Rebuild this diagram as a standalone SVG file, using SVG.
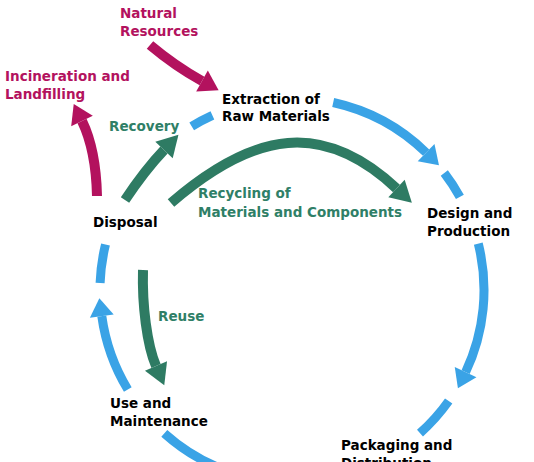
<svg xmlns="http://www.w3.org/2000/svg" width="534" height="462" viewBox="0 0 534 462">
<style>
text{font-family:"DejaVu Sans",Verdana,sans-serif;font-weight:bold;font-size:13.5px}
.k{fill:#000}
.m{fill:#B3125E}
.g{fill:#2F7F67}
.b{fill:none;stroke:#3AA3E6;stroke-width:9}
.mr{fill:none;stroke:#B3125E;stroke-width:10}
.gr{fill:none;stroke:#2E7B63;stroke-width:10}
</style>
<defs>
<marker id="hb" markerUnits="userSpaceOnUse" orient="auto" refX="0" refY="0" markerWidth="40" markerHeight="40" overflow="visible"><path d="M0,-12 L18,0 L0,12 Z" fill="#3AA3E6"/></marker>
<marker id="hm" markerUnits="userSpaceOnUse" orient="auto" refX="0" refY="0" markerWidth="40" markerHeight="40" overflow="visible"><path d="M0,-12 L19,0 L0,12 Z" fill="#B3125E"/></marker>
<marker id="hg" markerUnits="userSpaceOnUse" orient="auto" refX="0" refY="0" markerWidth="40" markerHeight="40" overflow="visible"><path d="M0,-12 L21,0 L0,12 Z" fill="#2E7B63"/></marker>
</defs>
<rect width="534" height="462" fill="#fff"/>
<g id="connectors">
<path class="b" d="M191.7,126.3 A192,192 0 0 1 212.4,115.3"/>
<path class="b" d="M333.2,102.5 A192,192 0 0 1 426.1,152.6" marker-end="url(#hb)"/>
<path class="b" d="M444.3,173.1 A192,192 0 0 1 459.9,196.9"/>
<path class="b" d="M478.3,243.6 A192,192 0 0 1 465.6,372.1" marker-end="url(#hb)"/>
<path class="b" d="M448.7,401 A192,192 0 0 1 420,433.1"/>
<path class="b" d="M258.7,479.1 A192,192 0 0 1 164.3,433.3"/>
<path class="b" d="M127.8,389.5 A192,192 0 0 1 101.8,316.1" marker-end="url(#hb)"/>
<path class="b" d="M100.1,283 A192,192 0 0 1 105.5,244.5"/>
<path class="mr" d="M150,45 Q175,66 202,81" marker-end="url(#hm)"/>
<path class="mr" d="M97,196 Q96,150 82,121" marker-end="url(#hm)"/>
<path class="gr" d="M125,200 Q145,170 164,150" marker-end="url(#hg)"/>
<path class="gr" d="M171,203 C255,130.5 323.4,120.3 396.5,188.5" marker-end="url(#hg)"/>
<path class="gr" d="M143,270 C142,305 147,345 156,366" marker-end="url(#hg)"/>
</g>
<g id="natural-resources"><text class="m" x="120" y="18">Natural</text><text class="m" x="120" y="36">Resources</text></g>
<g id="incineration"><text class="m" x="5" y="81">Incineration and</text><text class="m" x="5" y="99">Landfilling</text></g>
<g id="extraction"><text class="k" x="222" y="104">Extraction of</text><text class="k" x="222" y="121">Raw Materials</text></g>
<g id="recovery"><text class="g" x="109" y="131">Recovery</text></g>
<g id="design"><text class="k" x="427" y="218">Design and</text><text class="k" x="427" y="236">Production</text></g>
<g id="recycling"><text class="g" x="198" y="198">Recycling of</text><text class="g" x="198" y="217">Materials and Components</text></g>
<g id="disposal"><text class="k" x="93" y="227">Disposal</text></g>
<g id="reuse"><text class="g" x="158" y="321">Reuse</text></g>
<g id="use"><text class="k" x="110" y="408">Use and</text><text class="k" x="110" y="426">Maintenance</text></g>
<g id="packaging"><text class="k" x="341" y="450">Packaging and</text><text class="k" x="341" y="468">Distribution</text></g>
</svg>
